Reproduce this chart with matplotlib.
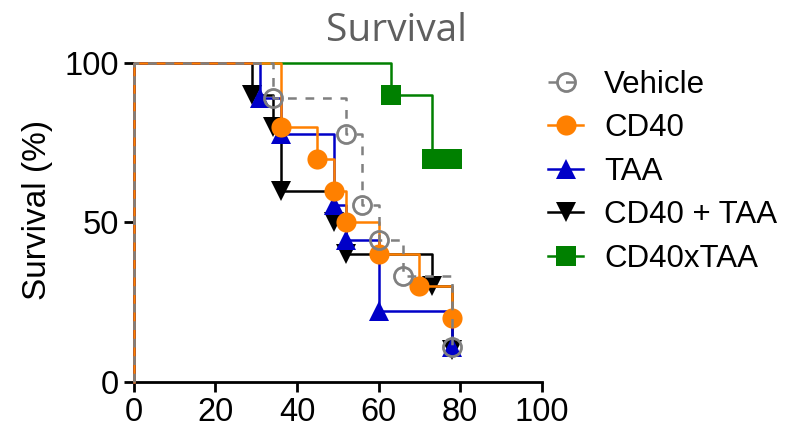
import matplotlib
matplotlib.use("Agg")
import matplotlib.pyplot as plt

# data (days, % survival)
veh_t = [34, 52, 56, 60, 66, 78]
veh_s = [88.9, 77.8, 55.6, 44.4, 33.3, 11.1]
cd40_t = [36, 45, 49, 52, 60, 70, 78]
cd40_s = [80, 70, 60, 50, 40, 30, 20]
taa_t = [31, 36, 49, 52, 60, 78]
taa_s = [88.9, 77.8, 55.6, 44.4, 22.2, 11.1]
combo_t = [29, 34, 36, 49, 52, 73, 78]
combo_s = [90, 80, 60, 50, 40, 30, 10]
cx_t = [63, 73, 78]
cx_s = [90, 70, 70]

labels = ["Vehicle", "CD40", "TAA", "CD40 + TAA", "CD40xTAA"]

plt.rcParams['font.family'] = ['Liberation Sans', 'DejaVu Sans']

fig = plt.figure(figsize=(7.92, 4.34), dpi=100)
ax = fig.add_axes([0.169, 0.120, 0.515, 0.735])

series = [
    # t, s, color, marker, face, linestyle, z
    (cx_t, cx_s, '#008000', 's', '#008000', '-', 2),
    (combo_t, combo_s, 'black', 'v', 'black', '-', 3),
    (taa_t, taa_s, '#0000C8', '^', '#0000C8', '-', 4),
    (cd40_t, cd40_s, '#FF8000', 'o', '#FF8000', '-', 5),
    (veh_t, veh_s, '#808080', 'o', 'none', '--', 6),
]
names = ["CD40xTAA", "CD40 + TAA", "TAA", "CD40", "Vehicle"]
handles = {}
for (t, s, c, m, fc, ls, z), name in zip(series, names):
    xs = [0, 0] + list(t)
    ys = [0, 100] + list(s)
    ln, = ax.step(xs, ys, where='post', color=c, lw=1.8, ls=ls, zorder=z,
                  clip_on=False)
    if ls == '--':
        ln.set_dashes((3.5, 3.5))
    ms = 13 if fc == 'none' else 14.5
    ax.plot(t, s, ls='none', marker=m, ms=ms, mfc=fc, mec=c,
            mew=2 if fc == 'none' else 0, zorder=z, clip_on=False)
    h, = ax.plot([], [], color=c, lw=1.8, ls=ls, marker=m, ms=ms,
                 mfc=fc, mec=c, mew=2 if fc == 'none' else 0)
    if ls == '--':
        h.set_dashes((3.5, 3.5))
    handles[name] = h

ax.set_xlim(0, 100)
ax.set_ylim(0, 100)
ax.set_xticks([0, 20, 40, 60, 80, 100])
ax.set_yticks([0, 50, 100])
for sp in ['top', 'right']:
    ax.spines[sp].set_visible(False)
for sp in ['left', 'bottom']:
    ax.spines[sp].set_linewidth(2)
ax.tick_params(direction='out', length=7, width=2, labelsize=23.5, pad=4)
ax.set_ylabel("Survival (%)", fontsize=24)
ax.yaxis.set_label_coords(-0.197, 0.54)

fig.text(0.5, 0.905, "Survival", family='Open Sans', fontsize=28,
         color='#5f5f5f', ha='center', va='baseline')

fig.legend([handles[n] for n in labels], labels, loc='upper left',
           bbox_to_anchor=(0.692, 0.839), frameon=False, fontsize=22.5,
           borderpad=0, borderaxespad=0, handlelength=1.12,
           handletextpad=0.67, labelspacing=0.43)

fig.savefig("out.png", dpi=100)
